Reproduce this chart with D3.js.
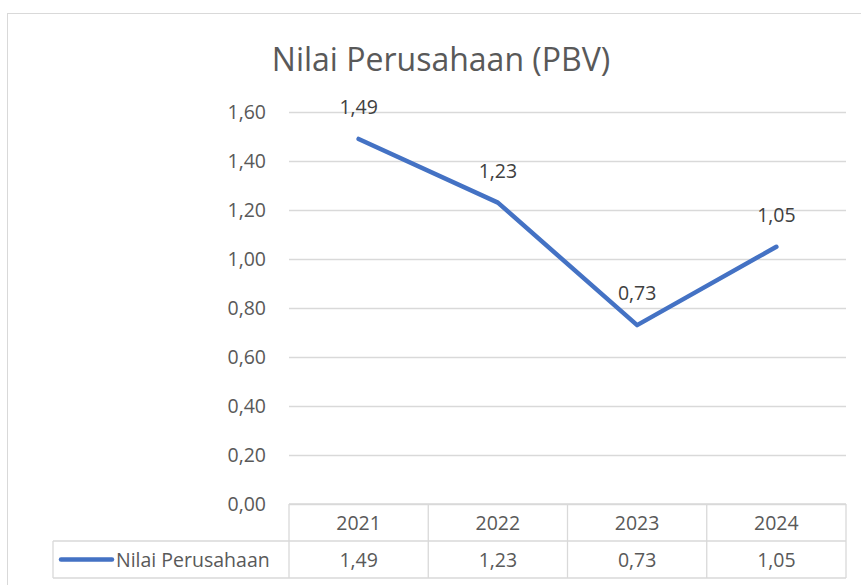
<!DOCTYPE html>
<html>
<head>
<meta charset="utf-8">
<title>Nilai Perusahaan (PBV)</title>
<style>
  * { margin: 0; padding: 0; }
  body { width: 861px; height: 585px; background: #fff; overflow: hidden; }
  text { font-family: "Open Sans", "Liberation Sans", sans-serif; fill: #595959; }
</style>
</head>
<body>
<svg id="chart" width="861" height="585"></svg>
<script src="https://cdn.jsdelivr.net/npm/d3@7/dist/d3.min.js"></script>
<script>
const years = ["2021", "2022", "2023", "2024"];
const pbv = [1.49, 1.23, 0.73, 1.05];
const yTicks = [0, 0.2, 0.4, 0.6, 0.8, 1.0, 1.2, 1.4, 1.6];
const seriesName = "Nilai Perusahaan";
const title = "Nilai Perusahaan (PBV)";

const svg = d3.select("#chart");
const grid = "#d9d9d9";
const fs = 19.5;
const fmt = v => d3.format(".2f")(v).replace(".", ",");

// plot area
const plot = { left: 289, right: 846, top: 112, bottom: 504 };
const rowH = 37;

// chart frame
svg.append("rect")
  .attr("x", 7.5).attr("y", 13.5)
  .attr("width", 900).attr("height", 600)
  .attr("fill", "none").attr("stroke", grid);

svg.append("text")
  .attr("x", 441).attr("y", 62)
  .attr("text-anchor", "middle")
  .attr("dominant-baseline", "middle")
  .attr("font-size", 32)
  .text(title);

const x = d3.scaleBand().domain(years).range([plot.left, plot.right]);
const y = d3.scaleLinear().domain([0, 1.6]).range([plot.bottom, plot.top]);

// gridlines + y labels
svg.append("g").selectAll("line").data(yTicks).join("line")
  .attr("x1", plot.left).attr("x2", plot.right)
  .attr("y1", d => Math.round(y(d)) + 0.5).attr("y2", d => Math.round(y(d)) + 0.5)
  .attr("stroke", grid).attr("stroke-width", 1.3);

svg.append("g").selectAll("text").data(yTicks).join("text")
  .attr("x", 266).attr("y", d => y(d) + 1.5)
  .attr("text-anchor", "end")
  .attr("dominant-baseline", "middle")
  .attr("font-size", fs)
  .text(fmt);

// line
const line = d3.line()
  .x((d, i) => x(years[i]) + x.bandwidth() / 2)
  .y(d => y(d));

svg.append("path")
  .datum(pbv)
  .attr("d", line)
  .attr("fill", "none")
  .attr("stroke", "#4472c4")
  .attr("stroke-width", 4.5)
  .attr("stroke-linecap", "round")
  .attr("stroke-linejoin", "round");

// data labels
svg.append("g").selectAll("text").data(pbv).join("text")
  .attr("x", (d, i) => x(years[i]) + x.bandwidth() / 2)
  .attr("y", d => y(d) - 30)
  .attr("text-anchor", "middle")
  .attr("dominant-baseline", "middle")
  .attr("font-size", fs)
  .style("fill", "#404040")
  .text(fmt);

// data table
const tbl = svg.append("g").attr("stroke", grid).attr("stroke-width", 1.3).attr("fill", "none");
const t0 = plot.bottom, t1 = t0 + rowH, t2 = t1 + rowH;
const legendLeft = 53;
tbl.append("line").attr("x1", plot.left).attr("x2", plot.right).attr("y1", t0).attr("y2", t0);
tbl.append("line").attr("x1", legendLeft).attr("x2", plot.right).attr("y1", t1).attr("y2", t1);
tbl.append("line").attr("x1", legendLeft).attr("x2", plot.right).attr("y1", t2).attr("y2", t2);
tbl.append("line").attr("x1", legendLeft).attr("x2", legendLeft).attr("y1", t1).attr("y2", t2);
tbl.selectAll(".v").data(years.concat(["end"])).join("line")
  .attr("x1", (d, i) => plot.left + i * x.bandwidth())
  .attr("x2", (d, i) => plot.left + i * x.bandwidth())
  .attr("y1", t0).attr("y2", t2);

svg.append("g").selectAll("text").data(years).join("text")
  .attr("x", d => x(d) + x.bandwidth() / 2)
  .attr("y", t0 + rowH / 2 + 2)
  .attr("text-anchor", "middle")
  .attr("dominant-baseline", "middle")
  .attr("font-size", fs)
  .text(d => d);

svg.append("g").selectAll("text").data(pbv).join("text")
  .attr("x", (d, i) => x(years[i]) + x.bandwidth() / 2)
  .attr("y", t1 + rowH / 2 + 2)
  .attr("text-anchor", "middle")
  .attr("dominant-baseline", "middle")
  .attr("font-size", fs)
  .text(fmt);

// legend key in table
svg.append("line")
  .attr("x1", 61).attr("x2", 112)
  .attr("y1", t1 + rowH / 2).attr("y2", t1 + rowH / 2)
  .attr("stroke", "#4472c4").attr("stroke-width", 4.5)
  .attr("stroke-linecap", "round");
svg.append("text")
  .attr("x", 116).attr("y", t1 + rowH / 2 + 2)
  .attr("dominant-baseline", "middle")
  .attr("font-size", fs)
  .text(seriesName);
</script>
</body>
</html>
